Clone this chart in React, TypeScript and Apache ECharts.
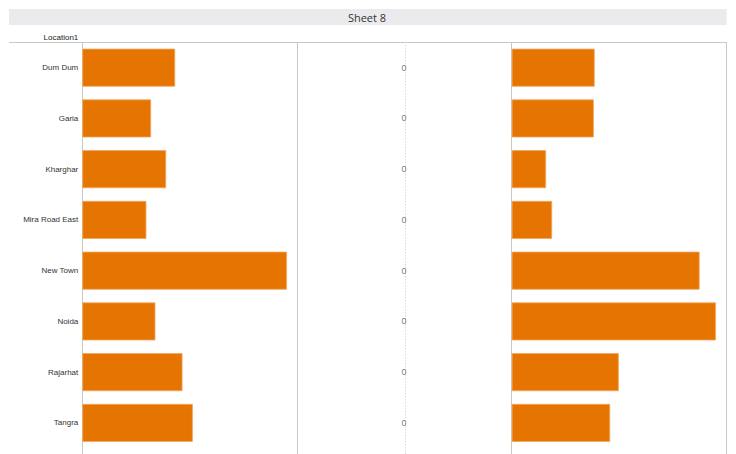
import React, { useEffect, useRef } from "react";
import * as echarts from "echarts";

const categories = ["Dum Dum", "Garia", "Kharghar", "Mira Road East", "New Town", "Noida", "Rajarhat", "Tangra"];
const leftValues = [21.6, 16.0, 19.5, 14.9, 47.6, 17.0, 23.3, 25.7];
const middleValues = [0, 0, 0, 0, 0, 0, 0, 0];
const rightValues = [19.3, 19.1, 8.0, 9.4, 43.7, 47.5, 24.9, 22.9];
const axisMax = 50;

const TOP = 42.3;
const HEIGHT = 406;
const PANES = [
  { left: 82.3, width: 215 },
  { left: 297.3, width: 214.4 },
  { left: 511.7, width: 215 },
];
const BAR_COLOR = "#E57400";
const FONT = "'Liberation Sans', Arial, sans-serif";

export default function App() {
  const ref = useRef<HTMLDivElement>(null);
  useEffect(() => {
    if (!ref.current) return;
    const chart = echarts.init(ref.current, null, { renderer: "svg" });
    const grids = PANES.map((p) => ({ left: p.left, top: TOP, width: p.width, height: HEIGHT, containLabel: false }));
    const hiddenY = (i: number, showLabels: boolean) => ({
      type: "category",
      gridIndex: i,
      data: categories,
      inverse: true,
      axisLine: { show: false },
      axisTick: { show: false },
      splitLine: { show: false },
      axisLabel: showLabels
        ? { show: true, fontSize: 8, color: "#333", fontFamily: FONT, margin: 4 }
        : { show: false },
    });
    const hiddenX = (i: number, min: number, max: number) => ({
      type: "value",
      gridIndex: i,
      min,
      max,
      show: false,
      splitLine: { show: false },
    });
    const vLine = (x: number, dashed = false) => ({
      type: "line",
      silent: true,
      shape: { x1: x, y1: TOP, x2: x, y2: 454 },
      style: { stroke: "#c8c8c8", lineWidth: 1, lineDash: dashed ? [1, 2] : null },
      z: 1,
    });
    const barSeries = (i: number, data: number[]) => ({
      type: "bar",
      xAxisIndex: i,
      yAxisIndex: i,
      data,
      barWidth: 38,
      itemStyle: { color: BAR_COLOR, borderColor: "#F1A75F", borderWidth: 0.8 },
      z: 3,
    });
    chart.setOption({
      animation: false,
      backgroundColor: "#ffffff",
      grid: grids,
      xAxis: [hiddenX(0, 0, axisMax), hiddenX(1, -1, 1), hiddenX(2, 0, axisMax)],
      yAxis: [hiddenY(0, true), hiddenY(1, false), hiddenY(2, false)],
      series: [
        barSeries(0, leftValues),
        {
          type: "scatter",
          xAxisIndex: 1,
          yAxisIndex: 1,
          data: middleValues.map((v, k) => [v, categories[k]]),
          symbolSize: 1,
          itemStyle: { color: "rgba(0,0,0,0)" },
          label: {
            show: true,
            position: "inside",
            offset: [-0.5, 0],
            formatter: (p: any) => String(p.value[0]),
            fontSize: 9,
            color: "#555",
            fontFamily: FONT,
          },
          z: 4,
        },
        barSeries(2, rightValues),
      ],
      graphic: [
        {
          type: "rect",
          silent: true,
          shape: { x: 9, y: 9, width: 717.7, height: 16 },
          style: { fill: "#EBEBEE" },
        },
        {
          type: "text",
          silent: true,
          x: 367,
          y: 17,
          style: {
            text: "Sheet 8",
            fontSize: 11,
            fontFamily: "'Open Sans', 'Noto Sans', sans-serif",
            fill: "#333",
            align: "center",
            verticalAlign: "middle",
          },
        },
        {
          type: "text",
          silent: true,
          x: 78.3,
          y: 37,
          style: {
            text: "Location1",
            fontSize: 8,
            fontFamily: FONT,
            fill: "#222",
            align: "right",
            verticalAlign: "middle",
          },
        },
        {
          type: "line",
          silent: true,
          shape: { x1: 9, y1: 42.5, x2: 727, y2: 42.5 },
          style: { stroke: "#c8c8c8", lineWidth: 1 },
        },
        vLine(82.5),
        vLine(297.5),
        vLine(405.5, true),
        vLine(511.5),
        vLine(726.5),
      ],
    });
    return () => chart.dispose();
  }, []);
  return (
    <div
      ref={ref}
      style={{ position: "fixed", left: 0, top: 0, width: 736, height: 454, background: "#fff" }}
    />
  );
}
